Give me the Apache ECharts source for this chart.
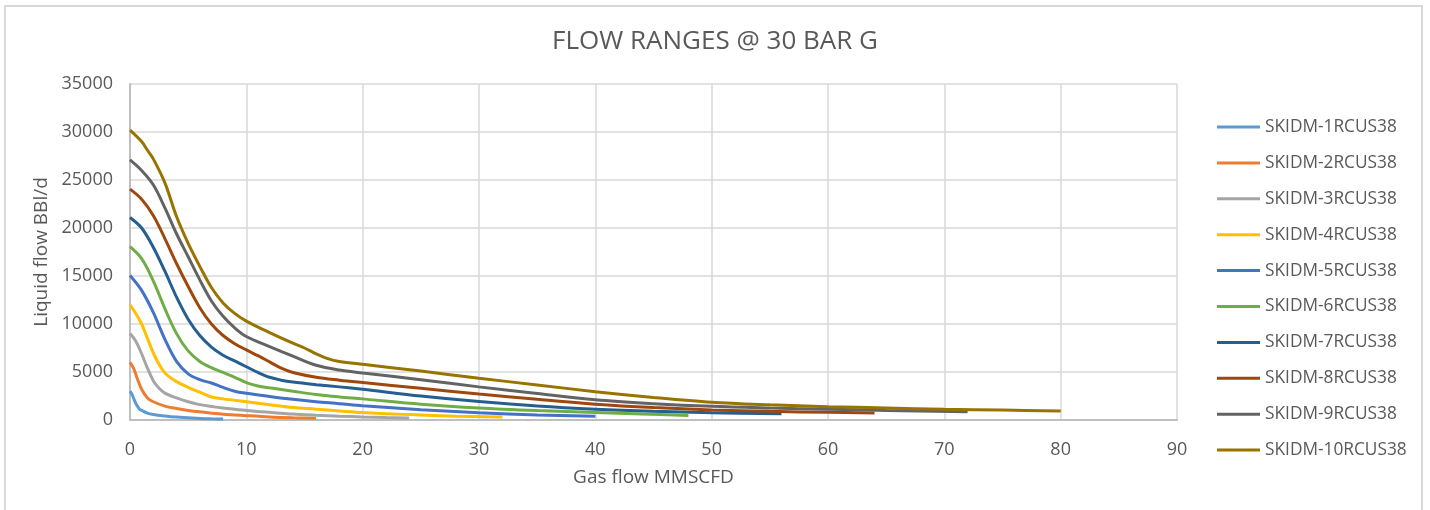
<!DOCTYPE html>
<html>
<head>
<meta charset="utf-8">
<script src="https://cdn.jsdelivr.net/npm/echarts@6/dist/echarts.min.js"></script>
<style>
html,body{margin:0;padding:0;background:#fff;}
#chart{width:1430px;height:510px;}
</style>
</head>
<body>
<div id="chart"></div>
<script>
// ---- data ----
var seriesNames = ['SKIDM-1RCUS38','SKIDM-2RCUS38','SKIDM-3RCUS38','SKIDM-4RCUS38','SKIDM-5RCUS38',
                   'SKIDM-6RCUS38','SKIDM-7RCUS38','SKIDM-8RCUS38','SKIDM-9RCUS38','SKIDM-10RCUS38'];
var seriesColors = ['#5B9BD5','#ED7D31','#A5A5A5','#FFC000','#4472C4','#70AD47','#255E91','#9E480E','#636363','#997300'];

var skid1 = [[0,3000],[0.2,2600],[0.4,2000],[0.6,1500],[0.8,1150],[1,1000],[1.5,720],[2,580],[3,420],[4,300],[5,230],[6,160],[7,120],[8,95]];
var skid2 = [[0,6000],[0.3,5400],[0.6,4400],[1,3200],[1.5,2300],[2,1900],[3,1450],[4,1200],[5,1000],[6,850],[8,600],[10,450],[12,320],[14,240],[16,190]];
var skid3 = [[0,9000],[0.5,8200],[1,6900],[1.5,5400],[2,4100],[2.5,3300],[3,2800],[4,2300],[5,1900],[6,1600],[8,1250],[10,1000],[12,800],[14,620],[16,500],[18,400],[20,320],[22,260],[24,220]];
var skid4 = [[0,12000],[0.5,11100],[1,10000],[1.5,8500],[2,7000],[2.5,5800],[3,4900],[4,4000],[5,3400],[6,2900],[7,2400],[8,2200],[10,1900],[12,1600],[14,1300],[16,1130],[18,950],[20,780],[24,560],[28,400],[32,300]];
var skid5 = [[0,15050],[1,13500],[2,11200],[3,8400],[4,6100],[5,4800],[6,4200],[7,3850],[8,3400],[9,3000],[10,2780],[12,2450],[14,2150],[16,1900],[18,1700],[20,1480],[25,1080],[30,760],[35,520],[40,380]];
var skid6 = [[0,18050],[1,16800],[2,14500],[3,11600],[4,9000],[5,7200],[6,6100],[7,5450],[8,4950],[9,4450],[10,3900],[11,3550],[12,3350],[14,3000],[16,2650],[18,2400],[20,2200],[25,1650],[30,1250],[35,980],[40,780],[44,620],[48,480]];
var skid7 = [[0,21100],[1,20000],[2,18000],[3,15500],[4,12800],[5,10500],[6,8800],[7,7600],[8,6750],[9,6150],[10,5550],[11,4950],[12,4450],[13,4150],[14,3950],[16,3680],[18,3450],[20,3200],[25,2500],[30,1920],[35,1450],[40,1120],[45,900],[50,760],[56,640]];
var skid8 = [[0,24050],[1,23000],[2,21300],[3,18900],[4,16300],[5,13900],[6,11700],[7,10000],[8,8800],[9,7950],[10,7300],[11,6700],[12,6050],[13,5400],[14,4950],[16,4450],[18,4150],[20,3900],[25,3300],[30,2700],[35,2150],[40,1650],[45,1300],[50,1050],[55,900],[60,800],[64,740]];
var skid9 = [[0,27100],[1,26000],[2,24500],[3,22100],[4,19400],[5,17000],[6,14600],[7,12400],[8,10800],[9,9600],[10,8700],[12,7650],[14,6650],[16,5700],[18,5200],[20,4900],[25,4200],[30,3450],[35,2750],[40,2100],[45,1700],[50,1420],[55,1250],[60,1120],[65,1000],[72,860]];
var skid10 = [[0,30200],[1,29000],[1.5,28100],[2,27200],[3,24700],[4,21200],[5,18400],[6,16000],[7,13800],[8,12200],[9,11100],[10,10300],[12,9100],[14,8000],[15,7500],[16,6900],[17,6400],[18,6100],[20,5800],[25,5100],[30,4350],[35,3650],[40,2950],[45,2350],[50,1850],[55,1580],[60,1390],[65,1250],[70,1120],[75,1030],[80,950]];

var allData = [skid1,skid2,skid3,skid4,skid5,skid6,skid7,skid8,skid9,skid10];

var FONT = '"Open Sans", "Noto Sans", sans-serif';
var TXT = '#595959';

var chart = echarts.init(document.getElementById('chart'), null, {renderer:'canvas'});

var series = allData.map(function(d, i){
  return {
    name: seriesNames[i],
    type: 'line',
    data: d,
    smooth: 0.35,
    symbol: 'none',
    showSymbol: false,
    lineStyle: {color: seriesColors[i], width: 3},
    itemStyle: {color: seriesColors[i]},
    z: 2 + i
  };
});

chart.setOption({
  animation: false,
  backgroundColor: '#fff',
  textStyle: {fontFamily: FONT},
  title: {
    text: 'FLOW RANGES @ 30 BAR G',
    left: 'center',
    top: 24,
    textStyle: {fontFamily: FONT, fontSize: 26, fontWeight: 'normal', color: TXT}
  },
  graphic: [{
    type: 'rect',
    shape: {x: 5, y: 6, width: 1417, height: 540},
    style: {fill: 'none', stroke: '#d9d9d9', lineWidth: 2},
    silent: true
  }],
  legend: {
    orient: 'vertical',
    left: 1217,
    top: 118.5,
    padding: 0,
    icon: 'rect',
    itemWidth: 43,
    itemHeight: 3,
    itemGap: 18.9,
    textStyle: {fontFamily: FONT, fontSize: 17.3, color: TXT, lineHeight: 16},
    data: seriesNames
  },
  grid: {left: 130, right: 253, top: 84, bottom: 90, containLabel: false},
  xAxis: {
    type: 'value',
    min: 0, max: 90, interval: 10,
    name: 'Gas flow MMSCFD',
    nameLocation: 'middle',
    nameGap: 48,
    nameTextStyle: {fontFamily: FONT, fontSize: 19, color: TXT},
    axisLine: {show: true, lineStyle: {color: '#bfbfbf', width: 2}},
    axisTick: {show: false},
    axisLabel: {fontFamily: FONT, fontSize: 18, color: TXT, margin: 21},
    splitLine: {show: true, lineStyle: {color: '#d9d9d9', width: 1.5}}
  },
  yAxis: {
    type: 'value',
    min: 0, max: 35000, interval: 5000,
    name: 'Liquid flow BBl/d',
    nameLocation: 'middle',
    nameGap: 63,
    nameTextStyle: {fontFamily: FONT, fontSize: 19, color: TXT},
    axisLine: {show: true, lineStyle: {color: '#bfbfbf', width: 2}},
    axisTick: {show: false},
    axisLabel: {fontFamily: FONT, fontSize: 18, color: TXT, margin: 17, formatter: function(v){ return String(v); }},
    splitLine: {show: true, lineStyle: {color: '#d9d9d9', width: 1.5}}
  },
  series: series
});
</script>
</body>
</html>
